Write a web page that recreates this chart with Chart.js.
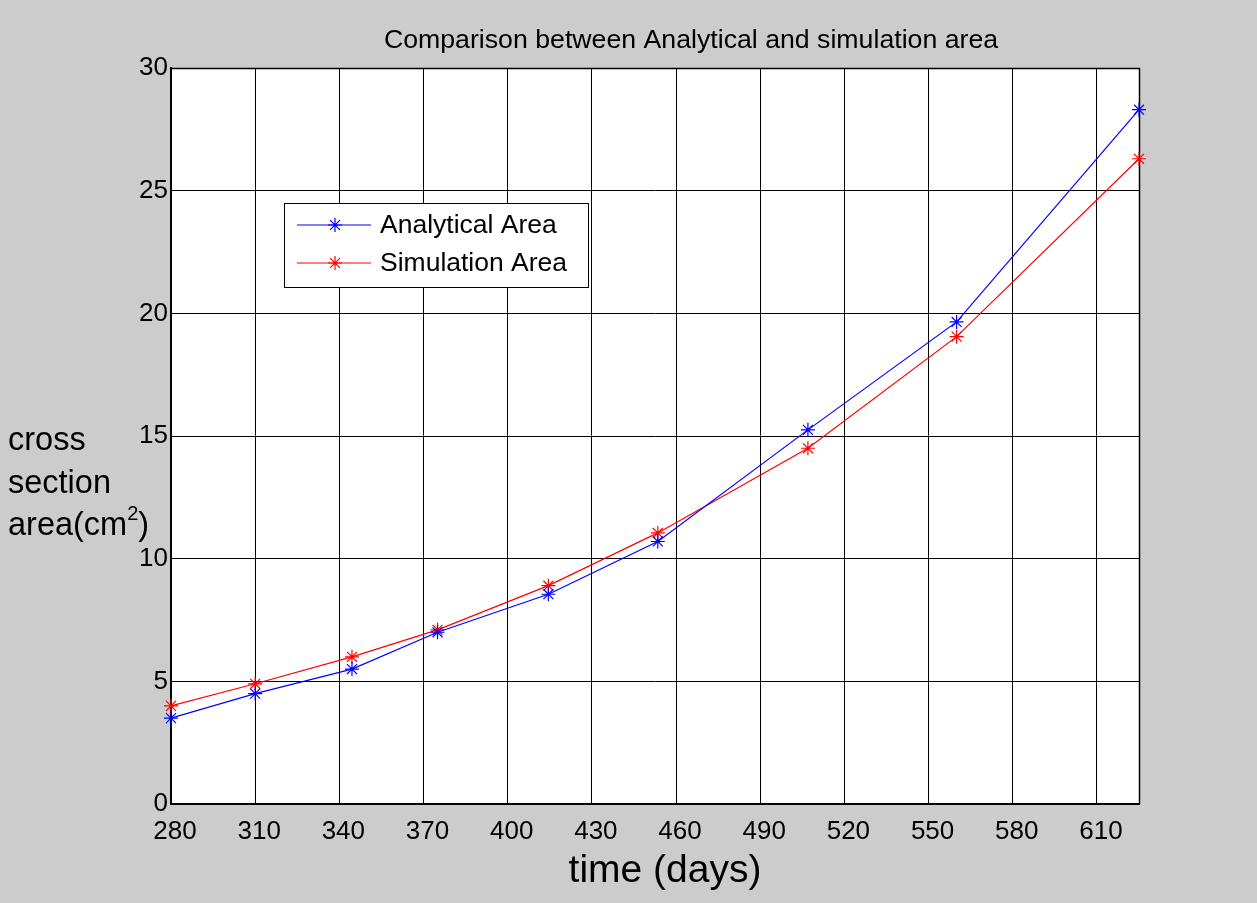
<!DOCTYPE html>
<html>
<head>
<meta charset="utf-8">
<script src="https://cdn.jsdelivr.net/npm/chart.js@4.4.0/dist/chart.umd.min.js"></script>
<style>
  html, body { margin: 0; padding: 0; background: #cccccc; }
  canvas { display: block; }
</style>
</head>
<body>
<canvas id="chart" width="1257" height="903"></canvas>
<script>
const days = [280, 310, 344.5, 375, 414.5, 453.5, 507, 560, 625];
const analyticalArea = [3.5, 4.5, 5.5, 7.0, 8.55, 10.7, 15.25, 19.65, 28.3];
const simulationArea = [4.0, 4.9, 6.0, 7.1, 8.9, 11.05, 14.5, 19.05, 26.3];
const xTicks = [280, 310, 340, 370, 400, 430, 460, 490, 520, 550, 580, 610];
const yTicks = [0, 5, 10, 15, 20, 25, 30];

const FONT = '"Liberation Sans", Arial, sans-serif';

const toPoints = (ys) => ys.map((y, i) => ({ x: days[i], y }));

const matlabLook = {
  id: 'matlabLook',
  beforeDraw(chart) {
    const { ctx, chartArea: a } = chart;
    ctx.save();
    ctx.fillStyle = '#ffffff';
    ctx.fillRect(a.left, a.top, a.right - a.left, a.bottom - a.top);
    ctx.restore();
  },
  beforeDatasetsDraw(chart) {
    // box round the axes (top and right edges)
    const { ctx, chartArea: a } = chart;
    ctx.save();
    ctx.strokeStyle = '#000';
    ctx.lineWidth = 1.5;
    ctx.beginPath();
    ctx.moveTo(a.left, a.top + 0.5);
    ctx.lineTo(a.right + 0.5, a.top + 0.5);
    ctx.lineTo(a.right + 0.5, a.bottom);
    ctx.stroke();
    ctx.restore();
  },
  afterDraw(chart) {
    const { ctx } = chart;
    ctx.save();
    ctx.fillStyle = '#000';
    ctx.textBaseline = 'alphabetic';

    // title
    ctx.font = '26.7px ' + FONT;
    ctx.textAlign = 'center';
    ctx.fillText('Comparison between Analytical and simulation area', 691, 48);

    // x title
    ctx.font = '39px ' + FONT;
    ctx.fillText('time (days)', 665, 882);

    // y title
    ctx.font = '32.5px ' + FONT;
    ctx.textAlign = 'left';
    ctx.fillText('cross', 8, 450);
    ctx.fillText('section', 8, 493);
    const base = 'area(cm';
    ctx.fillText(base, 8, 535);
    const w = ctx.measureText(base).width;
    ctx.font = '20px ' + FONT;
    ctx.fillText('2', 8 + w, 520);
    const w2 = ctx.measureText('2').width;
    ctx.font = '32.5px ' + FONT;
    ctx.fillText(')', 8 + w + w2, 535);

    // legend
    const lx = 284, ly = 203, lw = 304, lh = 84;
    ctx.fillStyle = '#fff';
    ctx.fillRect(lx, ly, lw, lh);
    ctx.strokeStyle = '#000';
    ctx.lineWidth = 1;
    ctx.strokeRect(lx + 0.5, ly + 0.5, lw, lh);
    chart.data.datasets.forEach((ds, i) => {
      const y = 225 + i * 38;
      ctx.strokeStyle = ds.borderColor;
      ctx.lineWidth = 1.2;
      ctx.beginPath();
      ctx.moveTo(297, y);
      ctx.lineTo(371, y);
      ctx.stroke();
      Chart.helpers.drawPoint(ctx, { pointStyle: 'star', radius: 7, borderWidth: 1.2 }, 335, y);
      ctx.fillStyle = '#000';
      ctx.font = '26.5px ' + FONT;
      ctx.textAlign = 'left';
      ctx.textBaseline = 'middle';
      ctx.fillText(ds.label, 380, y + 1);
    });
    ctx.restore();
  }
};

new Chart(document.getElementById('chart'), {
  type: 'line',
  data: {
    datasets: [
      {
        label: 'Analytical Area',
        data: toPoints(analyticalArea),
        borderColor: '#0000ff',
        backgroundColor: '#0000ff',
        borderWidth: 1.2,
        pointStyle: 'star',
        pointRadius: 7,
        pointBorderWidth: 1.2,
        pointBorderColor: '#0000ff',
        clip: false
      },
      {
        label: 'Simulation Area',
        data: toPoints(simulationArea),
        borderColor: '#ff0000',
        backgroundColor: '#ff0000',
        borderWidth: 1.2,
        pointStyle: 'star',
        pointRadius: 7,
        pointBorderWidth: 1.2,
        pointBorderColor: '#ff0000',
        clip: false
      }
    ]
  },
  options: {
    responsive: false,
    animation: false,
    layout: { padding: { left: 0, top: 68, right: 118, bottom: 0 } },
    plugins: {
      legend: { display: false },
      title: { display: false },
      tooltip: { enabled: false }
    },
    scales: {
      x: {
        type: 'linear',
        min: 280,
        max: 625,
        afterBuildTicks: (s) => { s.ticks = xTicks.map(v => ({ value: v })); },
        afterFit: (s) => { s.height = 99; },
        grid: { color: '#000', lineWidth: 1, drawTicks: false },
        border: { color: '#000', width: 2 },
        ticks: { color: '#000', font: { family: FONT, size: 26 }, padding: 12, labelOffset: 4, maxRotation: 0 }
      },
      y: {
        min: 0,
        max: 30,
        afterBuildTicks: (s) => { s.ticks = yTicks.map(v => ({ value: v })); },
        afterFit: (s) => { s.width = 171; },
        grid: { color: '#000', lineWidth: 1, drawTicks: false },
        border: { color: '#000', width: 2 },
        ticks: { color: '#000', font: { family: FONT, size: 26 }, padding: 3 }
      }
    }
  },
  plugins: [matlabLook]
});
</script>
</body>
</html>
